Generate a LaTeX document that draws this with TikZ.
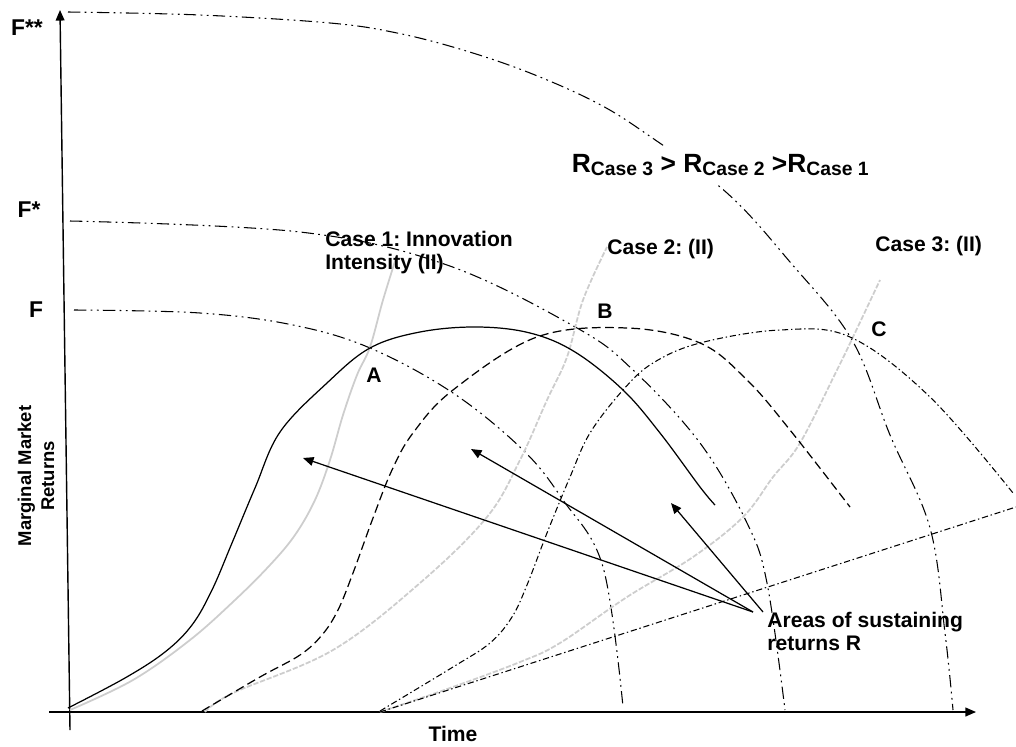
\documentclass[tikz,border=0pt]{standalone}
\usepackage{fontspec}
\setmainfont{Liberation Sans}
\frenchspacing
\usepackage{tikz}
\usetikzlibrary{arrows.meta, positioning, calc}
\definecolor{intensitycolor}{RGB}{205, 205, 205}

\tikzset{
  axislabel/.style={font=\fontsize{12}{13}\selectfont\bfseries, inner sep=0pt},
  caselabel/.style={font=\fontsize{12}{13}\selectfont\bfseries, align=left, inner sep=0pt},
  pointlabel/.style={font=\fontsize{12}{13}\selectfont\bfseries, inner sep=0pt},
  frontier/.style={line width=0.6pt, dash pattern=on 7pt off 2.5pt on 1pt off 2.5pt on 1pt off 2.5pt},
  caseone/.style={line width=0.7pt},
  casetwo/.style={line width=0.7pt, dash pattern=on 5pt off 2.5pt},
  casethree/.style={line width=0.6pt, dash pattern=on 3.5pt off 1.6pt on 0.8pt off 1.6pt},
  intensity/.style={intensitycolor, line width=1pt},
  intensitydash/.style={intensitycolor, line width=1pt, dash pattern=on 3pt off 1pt}
}

\begin{document}
\begin{tikzpicture}[x=0.02cm, y=-0.02cm, >={Triangle[length=6pt, width=5pt]}]
        \useasboundingbox (0,0) rectangle (1016,746);

        % Axes
        \draw[line width=0.8pt, ->] (70,730) -- (60,10);
        \draw[line width=0.8pt, ->] (49,712) -- (976,712);
        \node[axislabel, font=\fontsize{13}{14}\selectfont\bfseries] (fss) at (27,28) {F**};
        \node[axislabel, font=\fontsize{13}{14}\selectfont\bfseries] (fs) at (29,210) {F*};
        \node[axislabel, font=\fontsize{13}{14}\selectfont\bfseries] (f) at (36,310) {F};
        \node[axislabel] (time) at (453,734) {Time};
        \node[axislabel, rotate=90, align=center, font=\fontsize{10.5}{13}\selectfont\bfseries] (returns) at (36,476) {Marginal Market\\Returns};

        % Frontiers F, F*, F**
        \draw[frontier] plot[smooth, tension=0.6] coordinates {(74,310) (200,313) (293,325) (370,348) (453,393) (523,450) (563,500) (603,567) (623,707)};
        \draw[frontier] plot[smooth, tension=0.6] coordinates {(70,221) (300,232) (447,265) (577,328) (633,370) (700,443) (747,523) (767,583) (785,710)};
        \draw[frontier] plot[smooth, tension=0.6] coordinates {(68,12) (200,15) (330,23) (397,33) (463,50) (530,73) (597,103) (648,135) (727,193) (790,262) (852,340) (890,435) (930,528) (945,633) (953,710)};

        % Innovation intensity curves
        \draw[intensity] plot[smooth, tension=0.6] coordinates {(70,710) (133,680) (190,640) (235,600) (270,565) (295,535) (315,500) (330,460) (343,415) (357,375) (370,347) (383,300) (397,255)};
        \draw[intensitydash] plot[smooth, tension=0.6] coordinates {(205,712) (233,693) (333,650) (420,583) (487,517) (520,460) (547,400) (567,357) (583,300) (607,247)};
        \draw[intensitydash] plot[smooth, tension=0.6] coordinates {(380,712) (450,688) (520,662) (560,643) (627,597) (693,557) (743,517) (773,477) (800,443) (837,370) (853,337) (880,280)};

        % Market return curves
        \draw[caseone] plot[smooth, tension=0.6] coordinates {(68,708) (125,678) (165,652) (192,625) (212,590) (232,543) (255,488) (280,432) (327,383) (370,348) (420,332) (477,327) (530,333) (575,352) (623,390) (660,433) (700,487) (715,505)};
        \draw[casetwo] plot[smooth, tension=0.6] coordinates {(202,711) (260,677) (300,655) (322,635) (338,610) (353,573) (373,518) (392,470) (413,433) (453,390) (537,337) (627,328) (700,343) (747,380) (790,430) (850,507)};
        \draw[casethree] plot[smooth, tension=0.6] coordinates {(380,711) (453,667) (490,643) (512,617) (527,585) (547,533) (570,477) (590,433) (623,390) (653,363) (700,343) (780,330) (850,337) (930,397) (1013,493)};
        \draw[casethree] (380,712) -- (1016,507);

        % Labels
        \node[caselabel, anchor=north west] (case1) at (325,231) {Case 1: Innovation\\Intensity (II)};
        \node[caselabel, anchor=north west] (case2) at (607,239) {Case 2: (II)};
        \node[caselabel, anchor=north west] (case3) at (875,236) {Case 3: (II)};
        \node[pointlabel] (pa) at (374,375) {A};
        \node[pointlabel] (pb) at (605,311) {B};
        \node[pointlabel] (pc) at (879,329) {C};
        \node[fill=white, inner xsep=6pt, inner ysep=5pt, anchor=base west, font=\bfseries] (order) at (561,173)
          {\fontsize{15}{16}\selectfont R\raisebox{-1.5pt}{\fontsize{11}{12}\selectfont Case 3} > R\raisebox{-1.5pt}{\fontsize{11}{12}\selectfont Case 2} >R\raisebox{-1.5pt}{\fontsize{11}{12}\selectfont Case 1}};

        % Areas of sustaining returns
        \node[caselabel, anchor=north west] (areas) at (767,612) {Areas of sustaining\\returns R};
        \coordinate (tipa) at (303,458);
        \coordinate (tipb) at (471,449);
        \coordinate (tipc) at (671,503);
        \draw[line width=0.7pt, ->] ($(areas.north west)+(-14,0)$) -- (tipa);
        \draw[line width=0.7pt, ->] ($(areas.north west)+(-14,0)$) -- (tipb);
        \draw[line width=0.7pt, ->] ($(areas.north west)+(-4,0)$) -- (tipc);

    \end{tikzpicture}
\end{document}
